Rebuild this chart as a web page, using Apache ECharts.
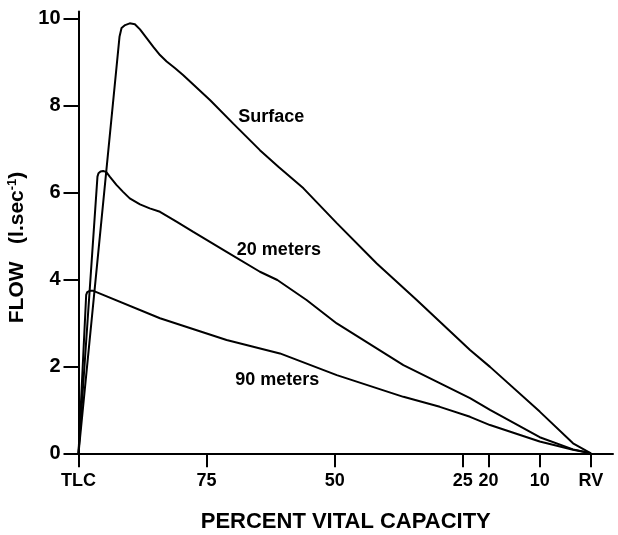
<!DOCTYPE html>
<html>
<head>
<meta charset="utf-8">
<script src="https://cdn.jsdelivr.net/npm/echarts@6/dist/echarts.min.js"></script>
<style>
  html, body { margin: 0; padding: 0; background: #fff; }
  #chart { width: 618px; height: 535px; }
</style>
</head>
<body>
<div id="chart"></div>
<script>
// x = percent vital capacity (100 = TLC, 0 = RV), y = flow in l/sec
var xTicks = [100, 75, 50, 25, 20, 10, 0];
var xTickLabels = ['TLC', '75', '50', '25', '20', '10', 'RV'];
var yTicks = [0, 2, 4, 6, 8, 10];

var surfacePct = [100, 92.0, 91.6, 90.9, 90.0, 89.0, 88.0, 86.7, 85.4, 84.1, 82.8, 81.2, 79.6, 74.3, 69.8, 64.6, 61.0, 56.1, 49.6, 41.8, 34.0, 23.6, 19.7, 10.0, 3.5, 0];
var surfaceFlow = [0, 9.59, 9.79, 9.86, 9.90, 9.88, 9.76, 9.56, 9.36, 9.17, 9.02, 8.87, 8.71, 8.13, 7.59, 6.98, 6.60, 6.10, 5.30, 4.37, 3.53, 2.38, 1.99, 0.96, 0.23, 0];

var m20Pct = [100, 96.3, 96.1, 95.7, 95.2, 94.6, 93.9, 92.6, 91.3, 90.0, 88.0, 86.1, 84.1, 80.8, 77.6, 71.1, 64.6, 61.2, 55.5, 49.6, 36.6, 23.6, 19.7, 10.0, 3.5, 0];
var m20Flow = [0, 6.37, 6.45, 6.49, 6.50, 6.48, 6.37, 6.18, 6.02, 5.87, 5.73, 5.64, 5.56, 5.33, 5.10, 4.64, 4.18, 3.99, 3.53, 2.99, 2.03, 1.27, 1.00, 0.37, 0.09, 0];

var m90Pct = [100, 98.5, 98.3, 97.8, 97.1, 96.8, 84.1, 71.1, 60.7, 49.6, 36.6, 29.5, 23.6, 19.7, 10.0, 3.5, 0];
var m90Flow = [0, 3.65, 3.71, 3.74, 3.74, 3.73, 3.11, 2.61, 2.30, 1.80, 1.30, 1.07, 0.84, 0.65, 0.27, 0.08, 0];

var seriesNames = ['Surface', '20 meters', '90 meters'];
// where each curve's name sits, in data units [pct, flow]
var labelAt = [[62.4, 7.74], [60.9, 4.68], [61.2, 1.68]];

function zip(xs, ys) {
  return xs.map(function (x, i) { return [x, ys[i]]; });
}

var font = 'Liberation Sans, Arial, Helvetica, sans-serif';
var black = '#000';

var chart = echarts.init(document.getElementById('chart'));

var curves = [zip(surfacePct, surfaceFlow), zip(m20Pct, m20Flow), zip(m90Pct, m90Flow)];

var option = {
  animation: false,
  backgroundColor: '#fff',
  grid: {
    left: 78.5,
    right: 5,
    top: 11.6,
    bottom: 81.7,
    containLabel: false,
    outerBoundsMode: 'none'
  },
  xAxis: {
    type: 'value',
    inverse: true,
    min: -4.3,
    max: 100,
    splitLine: { show: false },
    axisLine: { onZero: false, lineStyle: { color: black, width: 2 } },
    axisTick: { customValues: xTicks, length: 14, lineStyle: { color: black, width: 2 } },
    axisLabel: {
      customValues: xTicks,
      margin: 19,
      color: black,
      fontFamily: font,
      fontSize: 18,
      fontWeight: 'bold',
      formatter: function (v) {
        var i = xTicks.indexOf(v);
        return i >= 0 ? xTickLabels[i] : '';
      }
    },
    name: 'PERCENT VITAL CAPACITY',
    nameLocation: 'middle',
    nameGap: 58,
    nameTextStyle: { color: black, fontFamily: font, fontSize: 22, fontWeight: 'bold' }
  },
  yAxis: {
    type: 'value',
    min: 0,
    max: 10.17,
    splitLine: { show: false },
    axisLine: { onZero: false, lineStyle: { color: black, width: 2 } },
    axisTick: { customValues: yTicks, length: 15, lineStyle: { color: black, width: 2 } },
    axisLabel: {
      customValues: yTicks,
      margin: 18,
      color: black,
      fontFamily: font,
      fontSize: 20,
      fontWeight: 'bold'
    },
    name: 'FLOW   (l.sec{sup|-1})',
    nameLocation: 'middle',
    nameGap: 46,
    nameTextStyle: {
      color: black,
      fontFamily: font,
      fontSize: 21,
      fontWeight: 'bold',
      padding: [0, 30, 0, 0],
      rich: {
        sup: { fontFamily: font, fontSize: 13, fontWeight: 'bold', color: black, verticalAlign: 'top' }
      }
    }
  },
  series: curves.map(function (pts, i) {
    return {
      name: seriesNames[i],
      type: 'line',
      data: pts,
      symbol: 'none',
      smooth: false,
      lineStyle: { color: black, width: 2 },
      markPoint: {
        symbol: 'circle',
        symbolSize: 0,
        data: [{ coord: labelAt[i] }],
        label: {
          show: true,
          position: 'inside',
          formatter: seriesNames[i],
          color: black,
          fontFamily: font,
          fontSize: 18,
          fontWeight: 'bold'
        }
      }
    };
  })
};

chart.setOption(option);
</script>
</body>
</html>
